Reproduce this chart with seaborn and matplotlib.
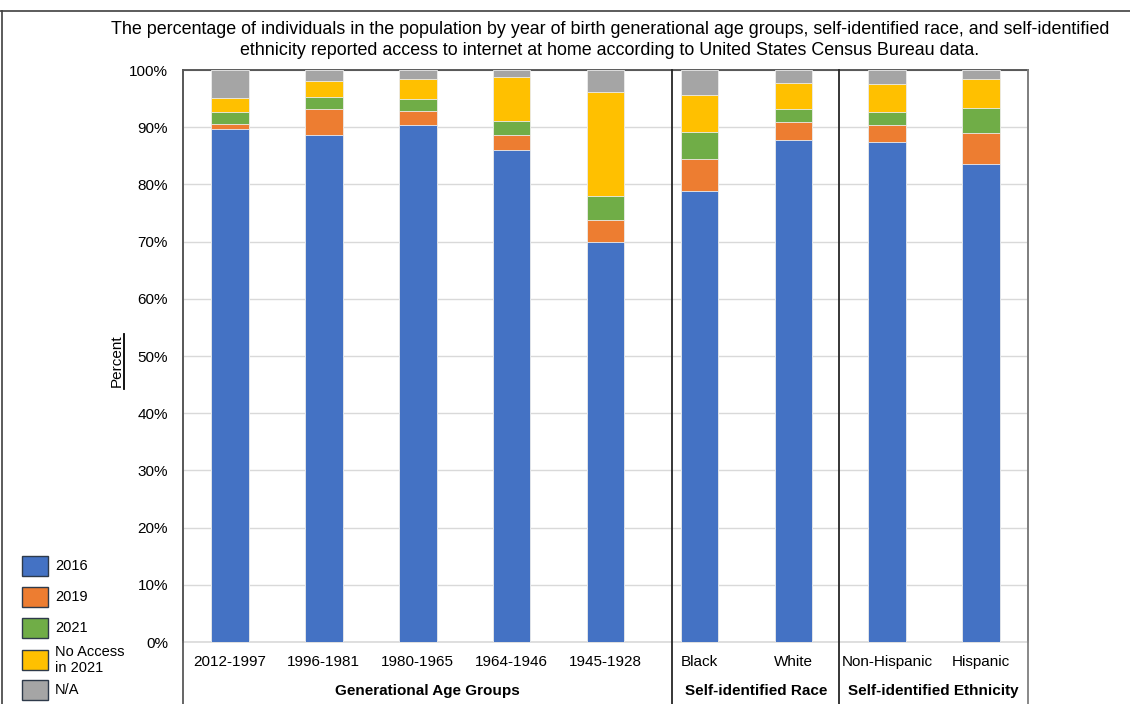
import numpy as np
import pandas as pd
import matplotlib
matplotlib.use("Agg")
import matplotlib.pyplot as plt
from matplotlib.lines import Line2D
from matplotlib.patches import Rectangle
import seaborn as sns

# categories
groups = ['2012-1997', '1996-1981', '1980-1965', '1964-1946', '1945-1928',
          'Black', 'White', 'Non-Hispanic', 'Hispanic']
series = ['2016', '2019', '2021', 'No Access\nin 2021', 'N/A']

# percent per segment (bottom to top)
pct_2016 = [89.6, 88.7, 90.3, 86.0, 69.9, 78.8, 87.8, 87.4, 83.5]
pct_2019 = [1.0, 4.4, 2.6, 2.6, 3.8, 5.6, 3.1, 2.9, 5.5]
pct_2021 = [2.1, 2.2, 2.0, 2.5, 4.2, 4.7, 2.2, 2.4, 4.3]
pct_no_access = [2.4, 2.7, 3.6, 7.6, 18.3, 6.6, 4.7, 4.9, 5.1]
pct_na = [4.9, 2.0, 1.5, 1.3, 3.8, 4.3, 2.2, 2.4, 1.6]

section_names = ['Generational Age Groups', 'Self-identified Race', 'Self-identified Ethnicity']

colors = ['#4472C4', '#ED7D31', '#70AD47', '#FFC000', '#A5A5A5']

plt.rcParams['font.family'] = ['Liberation Sans', 'DejaVu Sans']

# stacked tops for each layer
stack = np.cumsum(np.array([pct_2016, pct_2019, pct_2021, pct_no_access, pct_na]), axis=0)
df = pd.DataFrame({'group': groups})
for name, top in zip(series, stack):
    df[name] = top

fig = plt.figure(figsize=(11.3, 7.04), dpi=100)
ax = fig.add_axes([183 / 1130, 1 - 642 / 704, (1028 - 183) / 1130, (642 - 70) / 704])

# draw tallest layer first so the lower ones sit on top
for name, col in reversed(list(zip(series, colors))):
    sns.barplot(data=df, x='group', y=name, color=col, saturation=1, width=0.4,
                edgecolor='#EDEDED', linewidth=0.6, ax=ax, zorder=3)

ax.set_xlim(-0.5, 8.5)
ax.set_ylim(0, 100)
ax.set_yticks(np.arange(0, 101, 10))
ax.set_yticklabels([f'{v}%' for v in range(0, 101, 10)])
ax.yaxis.grid(True, color='#D9D9D9', linewidth=1, zorder=0)
ax.set_axisbelow(True)
ax.tick_params(axis='both', length=0, labelsize=11, colors='black')
ax.tick_params(axis='y', pad=10.8)
ax.tick_params(axis='x', pad=9.5)
ax.set_xlabel('')
ax.set_ylabel('')

ax.spines['left'].set_color('#595959')
ax.spines['top'].set_color('#404040')
ax.spines['right'].set_color('#7F7F7F')
ax.spines['bottom'].set_color('#D9D9D9')
for s in ax.spines.values():
    s.set_linewidth(1.2)

# frame lines running below the axis
trans = ax.get_xaxis_transform()
ext = -(704 - 642) / 572
for xv, c in [(-0.5, '#595959'), (4.71, '#262626'), (6.49, '#262626'), (8.5, '#7F7F7F')]:
    ax.plot([xv, xv], [ext, 1], transform=trans, color=c, lw=1.3, clip_on=False, zorder=5)

for name, xc in zip(section_names, [(-0.5 + 4.71) / 2, (4.71 + 6.49) / 2, (6.49 + 8.5) / 2]):
    ax.text(xc, -0.086, name, transform=trans, ha='center', va='center',
            fontsize=11, fontweight='bold')

# y label, underlined
fig.text(117 / 1130, 1 - 361 / 704, 'Percent', rotation=90, ha='center', va='center', fontsize=11)
fig.add_artist(Line2D([124 / 1130, 124 / 1130], [1 - 334 / 704, 1 - 389 / 704],
                      color='black', lw=1.3))

fig.text(610 / 1130, 1 - 40 / 704,
         'The percentage of individuals in the population by year of birth generational age groups, self-identified race, and self-identified\n'
         'ethnicity reported access to internet at home according to United States Census Bureau data.',
         ha='center', va='center', fontsize=12.9, linespacing=1.25)

# legend drawn by hand at the lower left
leg_y = [566, 597, 628, 660, 690]
for name, col, yc in zip(series, colors, leg_y):
    fig.add_artist(Rectangle((22 / 1130, 1 - (yc + 10) / 704), 26 / 1130, 20 / 704,
                             facecolor=col, edgecolor='#2E3A4A', lw=1.0,
                             transform=fig.transFigure))
    fig.text(55 / 1130, 1 - yc / 704, name, ha='left', va='center', fontsize=10.5,
             linespacing=1.1)

# outer frame bits
fig.add_artist(Line2D([0, 1], [1 - 11 / 704, 1 - 11 / 704], color='#404040', lw=1.2))
fig.add_artist(Line2D([2 / 1130, 2 / 1130], [0, 1 - 11 / 704], color='#404040', lw=1.2))

fig.savefig('out.png', dpi=100)
